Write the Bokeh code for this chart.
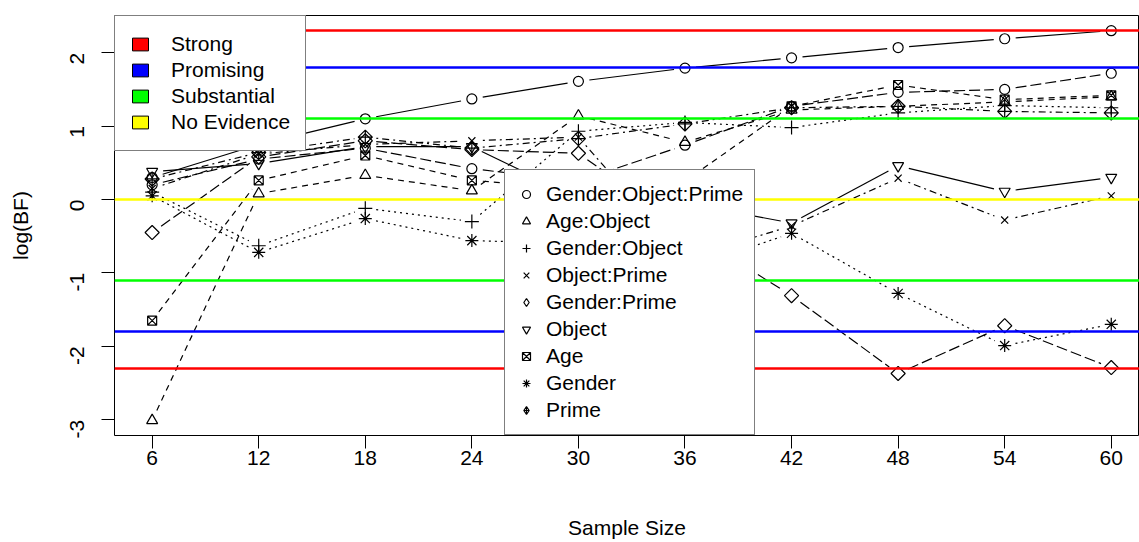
import math
from bokeh.plotting import figure
from bokeh.models import Range1d, Legend, LegendItem, FixedTicker
from bokeh.embed import file_html
from bokeh.resources import INLINE

# ---------------- data ----------------
sample_size = [6, 12, 18, 24, 30, 36, 42, 48, 54, 60]
x_ticks = [6, 12, 18, 24, 30, 36, 42, 48, 54, 60]
y_ticks = [-3, -2, -1, 0, 1, 2]

gender_object_prime = [0.30, 0.75, 1.10, 1.37, 1.61, 1.79, 1.93, 2.07, 2.19, 2.30]
age_object = [-3.01, 0.08, 0.33, 0.12, 1.14, 0.78, 1.22, 1.27, 1.33, 1.40]
gender_object = [0.10, -0.63, -0.12, -0.30, 0.93, 1.05, 0.98, 1.18, 1.28, 1.25]
object_prime = [0.15, 0.62, 0.75, 0.80, 0.85, -0.80, -0.36, 0.29, -0.28, 0.05]
gender_prime = [-0.45, 0.58, 0.80, 0.68, 0.63, -0.40, -1.31, -2.37, -1.72, -2.29]
object_term = [0.38, 0.49, 0.72, 0.72, 0.02, -0.05, -0.32, 0.46, 0.11, 0.30]
age = [-1.65, 0.26, 0.60, 0.26, 0.15, 0.25, 1.27, 1.56, 1.36, 1.42]
gender = [0.05, -0.72, -0.26, -0.56, -0.60, -0.95, -0.46, -1.28, -1.99, -1.70]
prime = [0.28, 0.64, 0.85, 0.70, 0.83, 1.03, 1.25, 1.27, 1.20, 1.18]
tenth_series = [0.20, 0.55, 0.70, 0.42, 0.25, 0.74, 1.27, 1.46, 1.50, 1.72]

series_names = ["Gender:Object:Prime", "Age:Object", "Gender:Object", "Object:Prime",
                "Gender:Prime", "Object", "Age", "Gender", "Prime", None]
series_values = [gender_object_prime, age_object, gender_object, object_prime,
                 gender_prime, object_term, age, gender, prime, tenth_series]

evidence_labels = ["Strong", "Promising", "Substantial", "No Evidence"]
evidence_levels = [2.303, 1.792, 1.099, 0.0]
evidence_colors = ["#FF0000", "#0000FF", "#00FF00", "#FFFF00"]

# ---------------- styles ----------------
FONT = "Liberation Sans"
FS = "21px"
markers = ["circle", "triangle", "cross", "x", "square", "inverted_triangle",
           "square_x", "asterisk", "square_x", "circle"]
legend_markers = ["circle", "triangle", "cross", "x", "diamond", "inverted_triangle",
                  "square_x", "asterisk", "diamond_cross", "circle"]
marker_sizes = [10, 11, 14, 10, 10, 11, 9, 13, 10, 10]
marker_angles = [0, 0, 0, 0, math.pi / 4, 0, 0, 0, math.pi / 4, 0]
dashes = ["solid", "6 5", "2 4", "2 4 7 4", "11 4",
          "solid", "6 5", "2 4", "2 4 7 4", "11 4"]

W, H = 1139, 542
BL, BR, BT, BB = 114, 0, 15, 107
x0, x1 = 3.88, 61.59
y0, y1 = -3.215, 2.507
frame_w = W - BL - BR
frame_h = H - BT - BB
sx = frame_w / (x1 - x0)
sy = frame_h / (y1 - y0)
GAP = 11  # px gap around points (R type="b")
NAN = float("nan")

p = figure(width=W, height=H, output_backend="svg", toolbar_location=None,
           x_range=Range1d(x0, x1), y_range=Range1d(y0, y1),
           min_border_left=BL, min_border_right=BR, min_border_top=BT,
           min_border_bottom=BB)
p.xgrid.visible = False
p.ygrid.visible = False
p.outline_line_color = "black"
p.outline_line_width = 1
p.background_fill_color = "white"
p.border_fill_color = "white"


def gapped(xs, ys):
    a0, b0, a1, b1 = [], [], [], []
    for i in range(len(xs) - 1):
        dx = (xs[i + 1] - xs[i]) * sx
        dy = (ys[i + 1] - ys[i]) * sy
        L = math.hypot(dx, dy)
        if L <= 2 * GAP:
            continue
        f = GAP / L
        a0.append(xs[i] + (xs[i + 1] - xs[i]) * f)
        b0.append(ys[i] + (ys[i + 1] - ys[i]) * f)
        a1.append(xs[i + 1] - (xs[i + 1] - xs[i]) * f)
        b1.append(ys[i + 1] - (ys[i + 1] - ys[i]) * f)
    return a0, b0, a1, b1


legend_renderers = []
for vals, mk, lmk, ms, ang, dsh in zip(series_values, markers, legend_markers,
                                       marker_sizes, marker_angles, dashes):
    a0, b0, a1, b1 = gapped(sample_size, vals)
    p.segment(x0=a0, y0=b0, x1=a1, y1=b1, line_color="black", line_width=1.2,
              line_dash=dsh)
    p.scatter(x=sample_size, y=vals, marker=mk, size=ms, angle=ang,
              fill_color=None, line_color="black", line_width=1.2)
    # legend-only glyph (no visible data)
    lr = p.scatter(x=[NAN], y=[NAN], marker=lmk, size=ms,
                   fill_color=None, line_color="black", line_width=1.2)
    legend_renderers.append(lr)

# evidence threshold lines
box_renderers = []
for lvl, col in zip(evidence_levels, evidence_colors):
    ys = [lvl, -lvl] if lvl != 0 else [lvl]
    p.hspan(y=ys, line_color=col, line_width=2.5)
    br = p.rect(x=[NAN], y=[NAN], width=[1], height=[1], fill_color=col,
                line_color="black", line_width=1)
    box_renderers.append(br)

# axes
p.xaxis.ticker = FixedTicker(ticks=x_ticks)
p.yaxis.ticker = FixedTicker(ticks=y_ticks)
p.yaxis.major_label_overrides = {t: str(t) for t in y_ticks}
p.xaxis.axis_label = "Sample Size"
p.yaxis.axis_label = "log(BF)"
for ax in (p.xaxis[0], p.yaxis[0]):
    ax.axis_line_color = None
    ax.major_tick_out = 13
    ax.major_tick_in = 0
    ax.minor_tick_out = 0
    ax.minor_tick_in = 0
    ax.major_tick_line_color = "black"
    ax.major_tick_line_width = 1
    ax.major_label_text_font = FONT
    ax.major_label_text_font_size = FS
    ax.major_label_text_color = "black"
    ax.axis_label_text_font = FONT
    ax.axis_label_text_font_size = FS
    ax.axis_label_text_font_style = "normal"
    ax.axis_label_text_color = "black"
p.xaxis[0].major_label_standoff = 2
p.xaxis[0].axis_label_standoff = 48
p.yaxis[0].major_label_orientation = math.pi / 2
p.yaxis[0].major_label_standoff = 24
p.yaxis[0].axis_label_standoff = 29

# legends
leg1 = Legend(items=[LegendItem(label=lab, renderers=[r])
                     for lab, r in zip(evidence_labels, box_renderers)],
              location="top_left", margin=0, padding=15, spacing=0,
              glyph_width=20, glyph_height=16, label_height=26, label_standoff=21,
              border_line_color="black", border_line_width=1,
              background_fill_color="white", background_fill_alpha=1.0,
              label_text_font=FONT, label_text_font_size=FS, label_text_color="black")
leg2 = Legend(items=[LegendItem(label=n, renderers=[r])
                     for n, r in zip(series_names, legend_renderers) if n],
              location=(390, 0), margin=0, padding=11, spacing=1,
              glyph_width=20, glyph_height=20, label_height=26, label_standoff=10,
              border_line_color="black", border_line_width=1,
              background_fill_color="white", background_fill_alpha=1.0,
              label_text_font=FONT, label_text_font_size=FS, label_text_color="black")
p.add_layout(leg1)
p.add_layout(leg2)

open("out.html", "w").write(file_html(p, INLINE))
